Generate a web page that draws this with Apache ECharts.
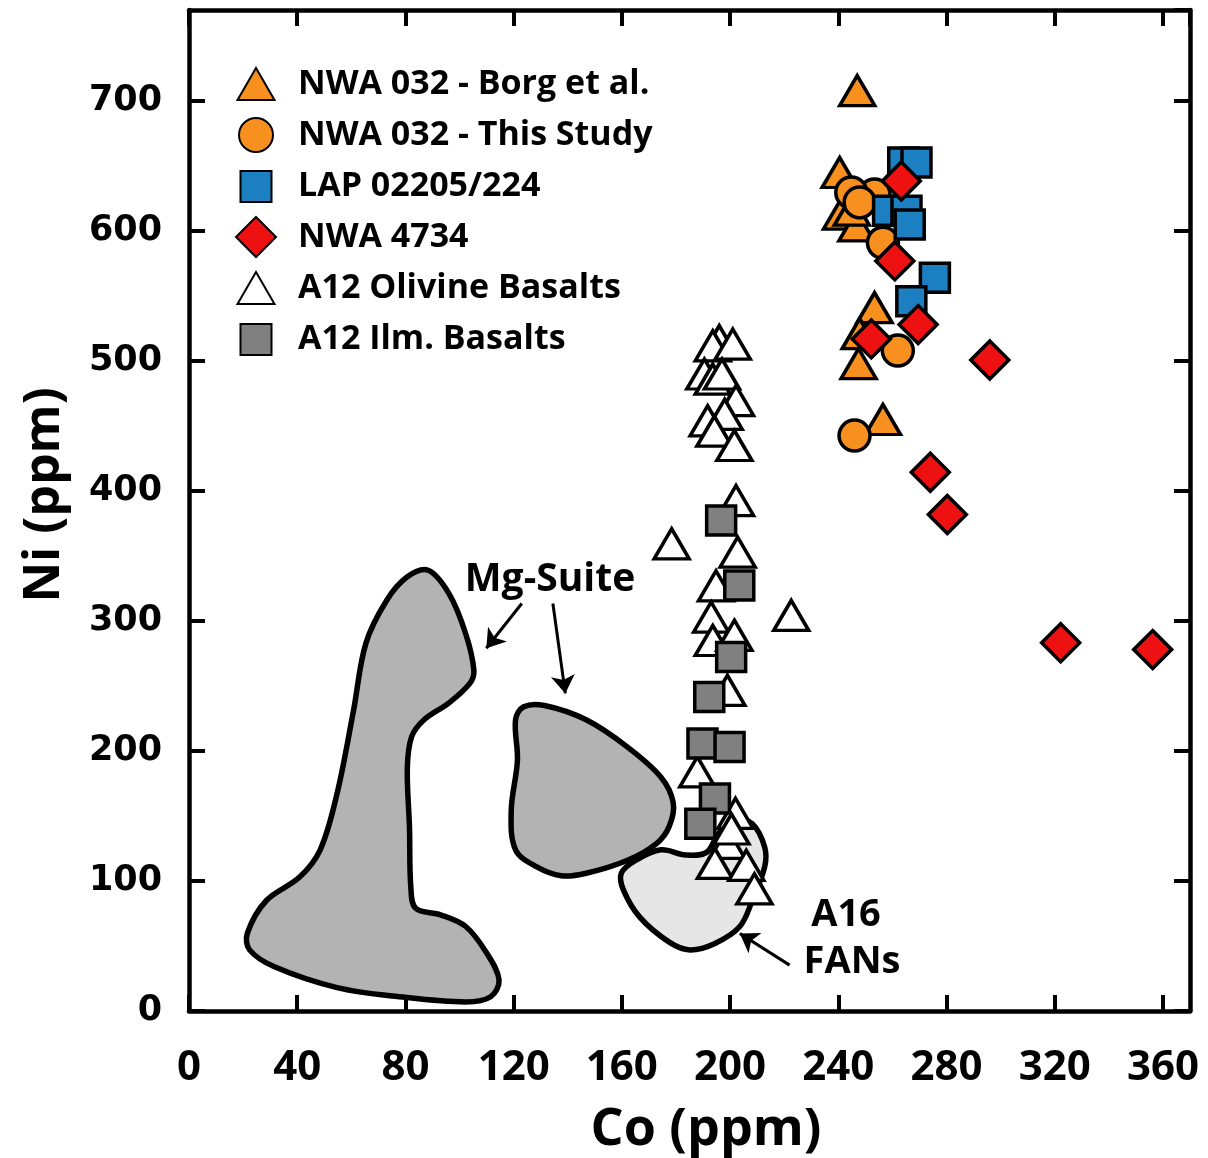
<!DOCTYPE html>
<html>
<head>
<meta charset="utf-8">
<script src="https://cdn.jsdelivr.net/npm/echarts@6.0.0/dist/echarts.min.js"></script>
<style>
  html, body { margin: 0; padding: 0; background: #ffffff; }
  #chart { width: 1208px; height: 1158px; }
</style>
</head>
<body>
<div id="chart"></div>
<script>
// Co vs Ni (ppm) in lunar basalts and meteorites

const xTicks = [0, 40, 80, 120, 160, 200, 240, 280, 320, 360];
const yTicks = [0, 100, 200, 300, 400, 500, 600, 700];

// [Co, Ni] pairs
const nwa032Borg = [
  [247, 708], [240.5, 645], [241, 613], [246.7, 604], [245, 616],
  [253.4, 541], [247.9, 521], [247.5, 498], [256.5, 455]
];
const nwa032ThisStudy = [
  [253.4, 628], [244.8, 629.6], [247.9, 622], [256.5, 591], [262, 508], [246, 442.6]
];
const lap02205 = [
  [264, 652.6], [268.9, 652.6], [258.4, 615.5], [265.2, 615.5], [266.4, 605],
  [275.7, 564], [267, 546]
];
const nwa4734 = [
  [263.3, 638.5], [260.9, 577], [269.5, 528], [252.2, 517], [296, 500.7],
  [274, 414.4], [280.3, 381.9], [322.2, 283.3], [356.2, 278]
];
const a12Olivine = [
  [196, 515.6], [193.6, 511.7], [201, 513], [190.5, 490], [193.6, 486], [197, 490],
  [202.2, 469.5], [191.7, 454], [198, 459], [194.2, 446], [201.6, 435], [202.2, 392.6],
  [178.4, 359.4], [202.8, 353], [194.8, 327], [222.6, 304.3], [193, 303], [193.6, 285],
  [201.6, 289], [199, 246.7], [187.9, 184], [202, 152], [199, 129], [194.4, 113.5],
  [206, 112], [209, 94], [200.5, 140]
];
const a12Ilmenite = [
  [196.7, 377.3], [203.4, 327.3], [200.4, 272.3], [192.3, 241.5],
  [189.8, 205.7], [199.8, 203], [194.4, 163.4], [189, 144]
];

// Outlines of the compositional fields, [Co, Ni]
const mgSuiteWest = [
  [88.4, 339], [96.1, 321], [102.3, 290], [105.3, 262], [103.8, 252], [96.1, 237],
  [86.9, 224], [82.3, 211], [80.7, 187], [81.5, 141], [82.0, 95], [83.8, 79],
  [93.0, 74], [102.3, 65], [109.9, 45], [114.6, 24], [111.5, 11], [102.3, 7],
  [77.7, 11], [54.7, 18], [31.6, 34], [22.4, 47], [21.6, 60], [28.6, 85],
  [40.9, 103], [48.5, 124], [54.7, 167], [60.8, 231], [65.4, 283], [73.1, 316], [80.7, 334]
];
const mgSuiteEast = [
  [123.7, 234], [131.4, 235], [146.8, 224], [162.1, 203], [174.4, 180], [179, 160],
  [177.5, 142], [172.9, 129], [162.1, 116], [146.8, 106], [137.6, 104], [128.4, 111],
  [120.7, 124], [119.1, 154], [121.4, 193], [120.7, 224]
];
const a16Fans = [
  [159.8, 106], [165.2, 116], [174.4, 124], [183.6, 120], [191.3, 122], [195.9, 137],
  [202, 147], [208.2, 144], [212.8, 126], [212.8, 111], [208.2, 85], [203.6, 65],
  [194.4, 52], [185.2, 47], [177.5, 53], [166.7, 72], [160.6, 93]
];

// Pointer arrows from the field labels, [from, to]
const fieldArrows = [
  [[123.0, 313.5], [109.9, 279]],
  [[134.5, 313.5], [139.1, 244.3]],
  [[222.0, 35.3], [203.6, 59.7]]
];

const textFont = 'Open Sans';

const chart = echarts.init(document.getElementById('chart'), null, { renderer: 'canvas' });

function fieldSeries(name, pts, fill) {
  return {
    type: 'custom',
    name: name,
    silent: true,
    z: 1,
    data: [0],
    renderItem: function (params, api) {
      return {
        type: 'polygon',
        shape: { points: pts.map(function (p) { return api.coord(p); }), smooth: 0.35 },
        style: { fill: fill, stroke: '#000000', lineWidth: 5.5 }
      };
    }
  };
}

function markerStyle(fill) {
  return { color: fill, borderColor: '#000000', borderWidth: 3.5, opacity: 1 };
}

const pointSeries = [
  { name: 'A12 Olivine Basalts', data: a12Olivine, symbol: 'triangle', symbolSize: [35, 30],
    itemStyle: markerStyle('#ffffff'), legendSize: [37, 32] },
  { name: 'A12 Ilm. Basalts', data: a12Ilmenite, symbol: 'rect', symbolSize: 29,
    itemStyle: markerStyle('#808080'), legendSize: [31, 31] },
  { name: 'NWA 032 - Borg et al.', data: nwa032Borg, symbol: 'triangle', symbolSize: [35, 30],
    itemStyle: markerStyle('#F7901E'), legendSize: [37, 32] },
  { name: 'NWA 032 - This Study', data: nwa032ThisStudy, symbol: 'circle', symbolSize: 31,
    itemStyle: markerStyle('#F7901E'), legendSize: [34, 34] },
  { name: 'LAP 02205/224', data: lap02205, symbol: 'rect', symbolSize: 29,
    itemStyle: markerStyle('#1C7FC2'), legendSize: [31, 31] },
  { name: 'NWA 4734', data: nwa4734, symbol: 'diamond', symbolSize: 38,
    itemStyle: markerStyle('#EE1111'), legendSize: [40, 40] }
];

const legendOrder = [
  'NWA 032 - Borg et al.', 'NWA 032 - This Study', 'LAP 02205/224',
  'NWA 4734', 'A12 Olivine Basalts', 'A12 Ilm. Basalts'
];

// one legend row per entry so every icon keeps its own size
const legendRows = legendOrder.map(function (name, i) {
  const s = pointSeries.find(function (p) { return p.name === name; });
  const cy = 83 + i * 51;
  const cx = 255;
  const w = s.legendSize[0], h = s.legendSize[1];
  const left = cx - w / 2;
  return {
    data: [name],
    orient: 'horizontal',
    left: left,
    top: cy - h / 2,
    itemWidth: w,
    itemHeight: h,
    padding: 0,
    selectedMode: false,
    textStyle: {
      fontFamily: textFont, fontWeight: 'bold', fontSize: 34, color: '#000000',
      padding: [0, 0, 0, 297 - (left + w + 5)]
    }
  };
});

function frameAxis(extra) {
  return Object.assign({
    type: 'value',
    axisLine: { show: true, onZero: false, lineStyle: { color: '#000000', width: 4.5 } },
    axisTick: { show: true, inside: true, length: 16, lineStyle: { color: '#000000', width: 4 } },
    splitLine: { show: false }
  }, extra);
}

const option = {
  backgroundColor: '#ffffff',
  animation: false,
  grid: { left: 189, right: 18, top: 10, bottom: 147 },
  legend: legendRows,
  xAxis: [
    frameAxis({
      position: 'bottom', min: 0, max: 370, interval: 40,
      axisLabel: {
        showMaxLabel: false, margin: 36,
        fontFamily: textFont, fontWeight: 'bold', fontSize: 42, color: '#000000',
        formatter: function (v) { return xTicks.indexOf(v) >= 0 ? String(v) : ''; }
      }
    }),
    frameAxis({ position: 'top', min: 0, max: 370, interval: 40, axisLabel: { show: false } })
  ],
  yAxis: [
    frameAxis({
      position: 'left', min: 0, max: 770, interval: 100,
      axisLabel: {
        showMaxLabel: false, margin: 27,
        fontFamily: 'DejaVu Sans', fontWeight: 'bold', fontSize: 35, color: '#000000',
        formatter: function (v) { return yTicks.indexOf(v) >= 0 ? String(v) : ''; }
      }
    }),
    frameAxis({ position: 'right', min: 0, max: 770, interval: 100, axisLabel: { show: false } })
  ],
  graphic: [
    { type: 'text', x: 706, y: 1130, silent: true,
      style: { text: 'Co (ppm)', fontFamily: textFont, fontWeight: 'bold', fontSize: 52,
               fill: '#000000', align: 'center', verticalAlign: 'middle' } },
    { type: 'text', x: 45, y: 495, rotation: Math.PI / 2, silent: true,
      style: { text: 'Ni (ppm)', fontFamily: textFont, fontWeight: 'bold', fontSize: 50,
               fill: '#000000', align: 'center', verticalAlign: 'middle' } },
    { type: 'text', x: 550, y: 580, silent: true,
      style: { text: 'Mg-Suite', fontFamily: textFont, fontWeight: 'bold', fontSize: 39,
               fill: '#000000', align: 'center', verticalAlign: 'middle' } },
    { type: 'text', x: 846, y: 915, silent: true,
      style: { text: 'A16', fontFamily: textFont, fontWeight: 'bold', fontSize: 38,
               fill: '#000000', align: 'center', verticalAlign: 'middle' } },
    { type: 'text', x: 852, y: 962, silent: true,
      style: { text: 'FANs', fontFamily: textFont, fontWeight: 'bold', fontSize: 38,
               fill: '#000000', align: 'center', verticalAlign: 'middle' } }
  ],
  series: [
    fieldSeries('A16 FANs', a16Fans, '#E6E6E6'),
    fieldSeries('Mg-Suite (west)', mgSuiteWest, '#B3B3B3'),
    fieldSeries('Mg-Suite (east)', mgSuiteEast, '#B3B3B3'),
    {
      type: 'lines',
      name: 'pointers',
      coordinateSystem: 'cartesian2d',
      silent: true,
      z: 2,
      symbol: ['none', 'arrow'],
      symbolSize: 18,
      lineStyle: { color: '#000000', width: 3, opacity: 1 },
      data: fieldArrows.map(function (a) { return { coords: a }; })
    }
  ].concat(pointSeries.map(function (s, i) {
    return {
      type: 'scatter',
      name: s.name,
      data: s.data,
      symbol: s.symbol,
      symbolSize: s.symbolSize,
      itemStyle: s.itemStyle,
      z: 3 + i,
      emphasis: { disabled: true }
    };
  }))
};

chart.setOption(option);
</script>
</body>
</html>
